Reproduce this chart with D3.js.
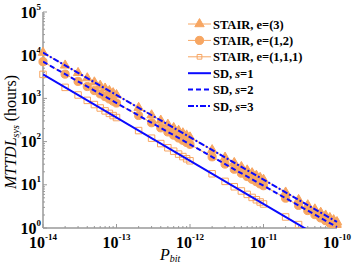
<!DOCTYPE html>
<html>
<head>
<meta charset="utf-8">
<script src="https://cdn.jsdelivr.net/npm/d3@7/dist/d3.min.js"></script>
<style>
  body { margin: 0; background: #fff; }
  text { font-family: "Liberation Serif", "DejaVu Serif", serif; }
</style>
</head>
<body>
<svg id="chart" width="353" height="267"></svg>
<script>
  // P_bit values where STAIR points are plotted
  var pbit = [
    1e-14, 2e-14, 3e-14, 4e-14, 5e-14, 6e-14, 7e-14, 8e-14, 9e-14,
    1e-13, 2e-13, 3e-13, 4e-13, 5e-13, 6e-13, 7e-13, 8e-13, 9e-13,
    1e-12, 2e-12, 3e-12, 4e-12, 5e-12, 6e-12, 7e-12, 8e-12, 9e-12,
    1e-11, 2e-11, 3e-11, 4e-11, 5e-11, 6e-11, 7e-11, 8e-11, 9e-11,
    1e-10
  ];
  var stair3 = [
    11480, 5820, 3910, 2950, 2370, 1984, 1706, 1496, 1333,
    1202, 609, 409, 309, 248, 208, 179, 157, 140,
    126, 63.8, 42.9, 32.3, 26.0, 21.7, 18.7, 16.4, 14.6,
    13.2, 6.68, 4.49, 3.39, 2.72, 2.28, 1.96, 1.72, 1.53,
    1.38
  ];
  var stair12 = [
    7079, 3646, 2476, 1880, 1517, 1274, 1099, 968, 865,
    781, 402, 273, 208, 167, 141, 121, 107, 95.5,
    86.3, 44.4, 30.2, 22.9, 18.5, 15.5, 13.4, 11.8, 10.5,
    9.52, 4.90, 3.33, 2.53, 2.04, 1.71, 1.48, 1.30, 1.16,
    1.05
  ];
  var stair111 = [
    3600, 1800, 1200, 900, 720, 600, 514, 450, 400,
    360, 180, 120, 90, 72, 60, 51.4, 45, 40,
    36, 18, 12, 9, 7.2, 6, 5.1, 4.5, 4,
    3.6, 1.8, 1.2
  ];
  // SD curves (straight in log-log), endpoints
  var sdP = [1e-14, 1e-10];
  var sd1 = [3600, 0.36];
  var sd2 = [7079, 1.05];
  var sd3 = [11480, 1.38];

  var xExps = [-14, -13, -12, -11, -10];
  var yExps = [0, 1, 2, 3, 4, 5];

  var ORANGE = '#f7a662';
  var BLUE = '#0a0aff';
  var AXIS = '#999';

  var svg = d3.select('#chart');
  var pLeft = 43, pRight = 337, pTop = 12, pBottom = 228;

  var x = d3.scaleLog().domain([1e-14, 1e-10]).range([pLeft, pRight]);
  var y = d3.scaleLog().domain([1, 1e5]).range([pBottom, pTop]);

  svg.append('clipPath').attr('id', 'clip')
    .append('rect')
    .attr('x', pLeft - 6).attr('y', pTop - 6)
    .attr('width', pRight - pLeft + 12).attr('height', pBottom - pTop + 6);

  // minor and major ticks
  var xMinor = [], yMinor = [];
  xExps.slice(0, -1).forEach(function(e) {
    for (var k = 2; k < 10; k++) { xMinor.push(k * Math.pow(10, e)); }
  });
  yExps.slice(0, -1).forEach(function(e) {
    for (var k = 2; k < 10; k++) { yMinor.push(k * Math.pow(10, e)); }
  });

  var axes = svg.append('g');
  axes.selectAll('line.xminor').data(xMinor).enter().append('line')
    .attr('x1', function(d) { return x(d); }).attr('x2', function(d) { return x(d); })
    .attr('y1', pBottom).attr('y2', pBottom - 2)
    .attr('stroke', AXIS).attr('stroke-width', 1);
  axes.selectAll('line.xmajor').data(xExps).enter().append('line')
    .attr('x1', function(d) { return x(Math.pow(10, d)); }).attr('x2', function(d) { return x(Math.pow(10, d)); })
    .attr('y1', pBottom).attr('y2', pBottom - 4)
    .attr('stroke', AXIS).attr('stroke-width', 1);
  axes.selectAll('line.yminor').data(yMinor).enter().append('line')
    .attr('y1', function(d) { return y(d); }).attr('y2', function(d) { return y(d); })
    .attr('x1', pLeft).attr('x2', pLeft + 2)
    .attr('stroke', AXIS).attr('stroke-width', 1);
  axes.selectAll('line.ymajor').data(yExps).enter().append('line')
    .attr('y1', function(d) { return y(Math.pow(10, d)); }).attr('y2', function(d) { return y(Math.pow(10, d)); })
    .attr('x1', pLeft).attr('x2', pLeft + 4)
    .attr('stroke', AXIS).attr('stroke-width', 1);
  axes.append('line').attr('x1', pLeft).attr('x2', pLeft).attr('y1', pTop).attr('y2', pBottom)
    .attr('stroke', AXIS).attr('stroke-width', 1.5);
  axes.append('line').attr('x1', pLeft).attr('x2', pRight).attr('y1', pBottom).attr('y2', pBottom)
    .attr('stroke', AXIS).attr('stroke-width', 1.5);

  // tick labels
  var xl = axes.selectAll('text.xl').data(xExps).enter().append('text')
    .attr('x', function(d) { return x(Math.pow(10, d)); })
    .attr('y', 248)
    .attr('text-anchor', 'middle')
    .attr('font-weight', 'bold').attr('font-size', 16);
  xl.append('tspan').text('10');
  xl.append('tspan').attr('dy', -8).attr('font-size', 9).text(function(d) { return String(d); });

  var yl = axes.selectAll('text.yl').data(yExps).enter().append('text')
    .attr('x', 41)
    .attr('y', function(d) { return y(Math.pow(10, d)) + 5.5; })
    .attr('text-anchor', 'end')
    .attr('font-weight', 'bold').attr('font-size', 16);
  yl.append('tspan').text('10');
  yl.append('tspan').attr('dy', -8).attr('font-size', 9).text(function(d) { return String(d); });

  // axis titles
  var xt = svg.append('text').attr('x', 160).attr('y', 260).attr('font-size', 16);
  xt.append('tspan').attr('font-style', 'italic').text('P');
  xt.append('tspan').attr('font-style', 'italic').attr('font-size', 10).attr('dy', 2).text('bit');

  var yt = svg.append('text')
    .attr('transform', 'translate(16,132) rotate(-90)')
    .attr('text-anchor', 'middle').attr('font-size', 16);
  yt.append('tspan').attr('font-style', 'italic').text('MTTDL');
  yt.append('tspan').attr('font-style', 'italic').attr('font-size', 10).attr('dy', 3).text('sys');
  yt.append('tspan').attr('dy', -3).text(' (hours)');

  // data
  var plot = svg.append('g').attr('clip-path', 'url(#clip)');
  var line = d3.line().x(function(d) { return x(d[0]); }).y(function(d) { return y(d[1]); });
  function pairs(xs, ys) { return ys.map(function(v, i) { return [xs[i], v]; }); }

  var stairSeries = [
    { vals: stair3, shape: d3.symbolTriangle, size: 38, fill: ORANGE, stroke: ORANGE },
    { vals: stair12, shape: d3.symbolCircle, size: 52, fill: ORANGE, stroke: ORANGE },
    { vals: stair111, shape: d3.symbolSquare, size: 42, fill: 'none', stroke: ORANGE }
  ];
  stairSeries.forEach(function(s) {
    var pts = pairs(pbit, s.vals);
    plot.append('path').attr('d', line(pts)).attr('fill', 'none')
      .attr('stroke', ORANGE).attr('stroke-width', 1);
    plot.selectAll(null).data(pts).enter().append('path')
      .attr('transform', function(d) { return 'translate(' + x(d[0]) + ',' + y(d[1]) + ')'; })
      .attr('d', d3.symbol().type(s.shape).size(s.size))
      .attr('fill', s.fill).attr('stroke', s.stroke).attr('stroke-width', 1);
  });

  svg.append('clipPath').attr('id', 'clip2')
    .append('rect').attr('x', pLeft).attr('y', pTop).attr('width', pRight - pLeft + 5).attr('height', pBottom - pTop);
  var sdGroup = svg.append('g').attr('clip-path', 'url(#clip2)');
  var sdSeries = [
    { vals: sd1, dash: null },
    { vals: sd2, dash: '5,3' },
    { vals: sd3, dash: '6,2,2,2' }
  ];
  sdSeries.forEach(function(s) {
    sdGroup.append('path').attr('d', line(pairs(sdP, s.vals))).attr('fill', 'none')
      .attr('stroke', BLUE).attr('stroke-width', 2)
      .attr('stroke-dasharray', s.dash);
  });

  // legend
  var legend = svg.append('g');
  var lx0 = 188, lx1 = 211, ltx = 213, ly0 = 24, ldy = 16.4;
  var legendItems = [
    { kind: 'stair', shape: d3.symbolTriangle, size: 38, fill: ORANGE, label: ['STAIR, e=(3)'] },
    { kind: 'stair', shape: d3.symbolCircle, size: 52, fill: ORANGE, label: ['STAIR, e=(1,2)'] },
    { kind: 'stair', shape: d3.symbolSquare, size: 22, fill: 'none', label: ['STAIR, e=(1,1,1)'] },
    { kind: 'sd', dash: null, label: ['SD, ', 's', '=1'] },
    { kind: 'sd', dash: '5,3', label: ['SD, ', 's', '=2'] },
    { kind: 'sd', dash: '6,2,2,2', label: ['SD, ', 's', '=3'] }
  ];
  legendItems.forEach(function(it, i) {
    var yy = ly0 + i * ldy;
    if (it.kind === 'stair') {
      legend.append('line').attr('x1', lx0).attr('x2', lx1).attr('y1', yy).attr('y2', yy)
        .attr('stroke', ORANGE).attr('stroke-width', 1);
      legend.append('path').attr('transform', 'translate(' + ((lx0 + lx1) / 2) + ',' + yy + ')')
        .attr('d', d3.symbol().type(it.shape).size(it.size))
        .attr('fill', it.fill).attr('stroke', ORANGE).attr('stroke-width', 1);
    } else {
      legend.append('line').attr('x1', lx0).attr('x2', lx1).attr('y1', yy).attr('y2', yy)
        .attr('stroke', BLUE).attr('stroke-width', 2).attr('stroke-dasharray', it.dash);
    }
    var t = legend.append('text').attr('x', ltx).attr('y', yy + 4.5)
      .attr('font-weight', 'bold').attr('font-size', 12.5);
    it.label.forEach(function(part, j) {
      var ts = t.append('tspan').text(part);
      if (j === 1) { ts.attr('font-style', 'italic'); }
    });
  });
</script>
</body>
</html>
